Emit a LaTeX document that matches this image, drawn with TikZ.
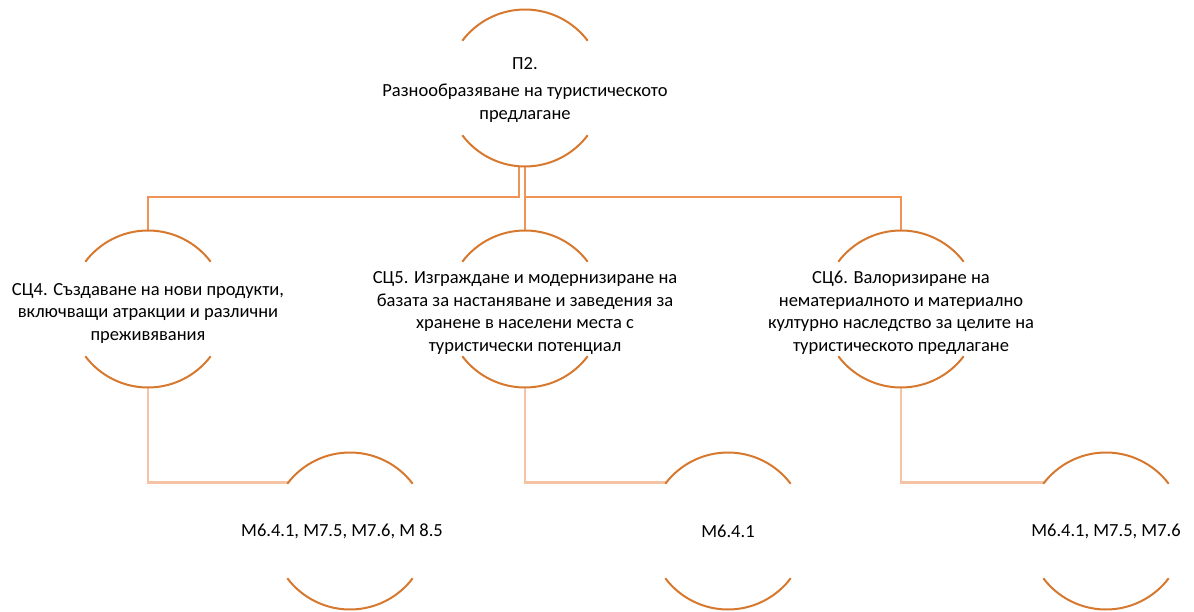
\documentclass[tikz,border=0pt]{standalone}
\usepackage{fontspec}
\setmainfont{Carlito}
\usetikzlibrary{positioning,calc}
\definecolor{rimorange}{HTML}{D7782F}
\definecolor{linkorange}{HTML}{EF9356}
\definecolor{linkpeach}{HTML}{F5C4A4}

\begin{document}
\begin{tikzpicture}[x=1pt,y=-1pt,
  ring/.style={circle,minimum size=157pt,inner sep=0pt,outer sep=0pt},
  txt/.style={align=center,inner sep=0pt,font=\fontsize{18.5}{22.5}\selectfont},
  rim/.style={draw=rimorange,line width=2pt},
  lvlone/.style={draw=linkorange,line width=2.8pt},
  lvltwo/.style={draw=linkpeach,line width=2.8pt}]
\useasboundingbox (0,0) rectangle (1194,612);
\node[ring] (p2) at (525,88) {};
\node[ring] (sc4) at (148,309) {};
\node[ring] (sc5) at (525,309) {};
\node[ring] (sc6) at (901,309) {};
\node[ring] (m1) at (350,531) {};
\node[ring] (m2) at (728,531) {};
\node[ring] (m3) at (1106,531) {};
\coordinate (bus) at (525,197);
\draw[lvlone] ([xshift=-6pt]p2.south) -- ([xshift=-6pt]p2.south |- bus) -| (sc4.north);
\draw[lvlone] (p2.south) -- (sc5.north);
\draw[lvlone] (p2.south) -- (bus) -| (sc6.north);
\draw[lvltwo] (sc4.south) |- (m1.142);
\draw[lvltwo] (sc5.south) |- (m2.142);
\draw[lvltwo] (sc6.south) |- (m3.142);
\foreach \n in {p2,sc4,sc5,sc6,m1,m2,m3}{
  \draw[rim] (\n.37) arc (37:143:78.5pt);
  \draw[rim] (\n.217) arc (217:323:78.5pt);
}
\node[txt] (p2t) at ([yshift=-2pt]p2.center) {П2.\\[5pt]Разнообразяване на туристическото\\предлагане};
\node[txt] (sc4t) at ([yshift=-4pt]sc4.center) {СЦ4. Създаване на нови продукти,\\включващи атракции и различни\\преживявания};
\node[txt] (sc5t) at ([yshift=-4pt]sc5.center) {СЦ5. Изграждане и модернизиране на\\базата за настаняване и заведения за\\хранене в населени места с\\туристически потенциал};
\node[txt] (sc6t) at ([yshift=-4pt]sc6.center) {СЦ6. Валоризиране на\\нематериалното и материално\\културно наследство за целите на\\туристическото предлагане};
\node[txt] (m1t) at ([xshift=-8pt]m1.center) {М6.4.1, М7.5, М7.6, М 8.5};
\node[txt] (m2t) at (m2) {М6.4.1};
\node[txt] (m3t) at (m3) {М6.4.1, М7.5, М7.6};
\end{tikzpicture}
\end{document}
